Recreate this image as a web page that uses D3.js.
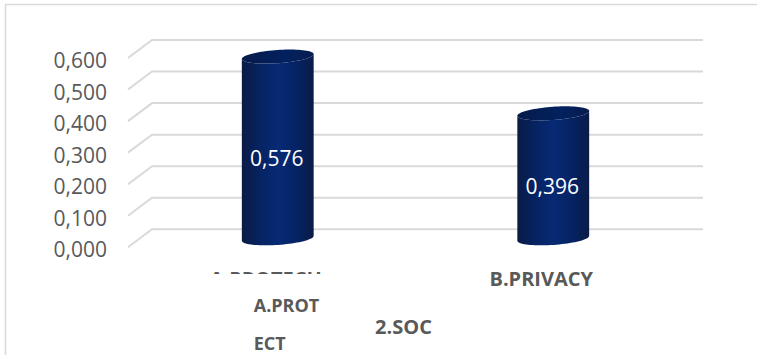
<!DOCTYPE html>
<html>
<head>
<meta charset="utf-8">
<script src="https://cdn.jsdelivr.net/npm/d3@7"></script>
<style>
  html, body { margin: 0; padding: 0; background: #fff; }
  svg { display: block; }
  text { font-family: "Open Sans", "Liberation Sans", sans-serif; }
</style>
</head>
<body>
<svg id="chart" width="757" height="355"></svg>
<script>
// Chart data
const categories = ["A.PROTECH", "B.PRIVACY"];
const values = [0.576, 0.396];
const groupLabel = "2.SOC";
const subLabelLines = ["A.PROT", "ECT"];
const yTicks = [0, 0.1, 0.2, 0.3, 0.4, 0.5, 0.6];

const fmt = v => d3.format(".3f")(v).replace(".", ",");

const svg = d3.select("#chart");
const W = 757, H = 355;

// Chart area frame
svg.append("rect")
  .attr("x", 5.5).attr("y", 4.5)
  .attr("width", W + 10).attr("height", H + 10)
  .attr("fill", "#fff").attr("stroke", "#d9d9d9").attr("stroke-width", 1.5);

// Back wall scales; depth offset gives front plane
const depthX = 24, depthY = 18;
const y = d3.scaleLinear().domain([0, 0.6]).range([229.3, 40]);
const xBack = d3.scaleBand().domain(categories).range([152, 703]);
const xMid = d3.scaleBand().domain(categories).range([152 - depthX / 2, 703 - depthX / 2]);
const xFront = d3.scaleBand().domain(categories).range([152 - depthX, 703 - depthX]);

// Gridlines: flat on back wall plus diagonal on side wall
const grid = svg.append("g").attr("stroke", "#d9d9d9").attr("stroke-width", 2).attr("fill", "none");
yTicks.forEach(t => {
  const yy = y(t);
  grid.append("path")
    .attr("d", `M${xBack.range()[0] - depthX},${yy + depthY}L${xBack.range()[0]},${yy}L${xBack.range()[1]},${yy}`);
});

// Y axis labels placed on front plane
svg.append("g").selectAll("text").data(yTicks).join("text")
  .attr("x", 107)
  .attr("y", d => y(d) + depthY + 2)
  .attr("text-anchor", "end")
  .attr("dominant-baseline", "central")
  .attr("font-size", 21)
  .attr("fill", "#595959")
  .text(d => fmt(d));

// Cylinder gradients
const defs = svg.append("defs");
const g1 = defs.append("linearGradient").attr("id", "cylBody").attr("x1", "0").attr("x2", "1").attr("y1", "0").attr("y2", "0");
[["0%", "#0a1a45"], ["25%", "#062362"], ["50%", "#072a75"], ["78%", "#052262"], ["100%", "#0b1b47"]]
  .forEach(([o, c]) => g1.append("stop").attr("offset", o).attr("stop-color", c));
const g2 = defs.append("linearGradient").attr("id", "cylTop").attr("x1", "0").attr("x2", "1").attr("y1", "0").attr("y2", "0");
[["0%", "#061a4a"], ["60%", "#03215f"], ["100%", "#071c4f"]]
  .forEach(([o, c]) => g2.append("stop").attr("offset", o).attr("stop-color", c));

// Cylinder geometry on the middle depth plane
const radius = 36, minor = 6.6, tilt = -4 * Math.PI / 180;
const ell = (cx, cy, t) => [
  cx + radius * Math.cos(t) * Math.cos(tilt) - minor * Math.sin(t) * Math.sin(tilt),
  cy + radius * Math.cos(t) * Math.sin(tilt) + minor * Math.sin(t) * Math.cos(tilt)
];
const line = d3.line();
const N = 40;

const bars = svg.append("g");
categories.forEach((c, i) => {
  const cx = xMid(c) + xMid.bandwidth() / 2;
  const yTop = y(values[i]) + depthY / 2;
  const yBot = y(0) + depthY / 2;
  const pts = [];
  // bottom front arc from left to right
  for (let k = 0; k <= N; k++) pts.push(ell(cx, yBot, Math.PI - Math.PI * k / N));
  // top front arc from right to left
  for (let k = 0; k <= N; k++) pts.push(ell(cx, yTop, Math.PI * k / N));
  bars.append("path").attr("d", line(pts) + "Z").attr("fill", "url(#cylBody)");
  const topPts = [];
  for (let k = 0; k <= 2 * N; k++) topPts.push(ell(cx, yTop, Math.PI * k / N));
  bars.append("path").attr("d", line(topPts) + "Z").attr("fill", "url(#cylTop)");

  // Value label at half height on front plane
  bars.append("text")
    .attr("x", cx - 1)
    .attr("y", y(values[i] / 2) + depthY + 1.5)
    .attr("text-anchor", "middle")
    .attr("dominant-baseline", "central")
    .attr("font-size", 21)
    .attr("fill", "#fff")
    .text(fmt(values[i]));
});

// Category axis labels; the first one is cut by the axis label area
const clip = defs.append("clipPath").attr("id", "catClip");
clip.append("rect").attr("x", 0).attr("y", 0).attr("width", W).attr("height", 274);

const axis = svg.append("g")
  .attr("font-weight", "bold").attr("fill", "#595959");
axis.selectAll("text.cat").data(categories).join("text")
  .attr("class", "cat")
  .attr("clip-path", (d, i) => i === 0 ? "url(#catClip)" : null)
  .attr("x", d => xFront(d) + xFront.bandwidth() / 2)
  .attr("y", 278)
  .attr("text-anchor", "middle")
  .attr("dominant-baseline", "central")
  .attr("font-size", 20)
  .text(d => d);

const x0 = xFront(categories[0]) + xFront.bandwidth() / 2 - 12;
axis.selectAll("text.sub").data(subLabelLines).join("text")
  .attr("class", "sub")
  .attr("x", x0)
  .attr("y", (d, i) => 305 + i * 38)
  .attr("dominant-baseline", "central")
  .attr("font-size", 18)
  .text(d => d);

axis.append("text")
  .attr("x", (xFront.range()[0] + xFront.range()[1]) / 2)
  .attr("y", 326)
  .attr("text-anchor", "middle")
  .attr("dominant-baseline", "central")
  .attr("font-size", 20)
  .text(groupLabel);
</script>
</body>
</html>
